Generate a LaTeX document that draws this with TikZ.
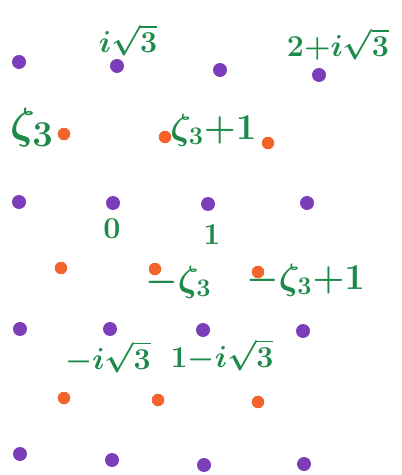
\documentclass[tikz,border=0pt]{standalone}
\usepackage{amsmath,amssymb}
\usepackage{tikz}
\definecolor{latt}{HTML}{7B3DB8}
\definecolor{eis}{HTML}{F2642B}
\definecolor{ink}{HTML}{1E8A4A}

\begin{document}
\begin{tikzpicture}[x=0.02cm, y=-0.02cm,
  dp/.style={circle, fill=latt, inner sep=0pt, minimum size=0.28cm},
  dq/.style={circle, fill=eis, inner sep=0pt, minimum size=0.25cm},
  lb/.style={text=ink, font=\LARGE\boldmath, inner sep=0pt},
  lz/.style={text=ink, font=\huge\boldmath, inner sep=0pt}]
\useasboundingbox (0,0) rectangle (401,475);
% purple points of Z[i sqrt 3]
\foreach \p/\n in {(19,62)/a1,(117,66)/b1,(220,70)/c1,(319,75)/d1,
                   (19,202)/a2,(113,203)/b2,(208,204)/c2,(307,203)/d2,
                   (20,329)/a3,(110,329)/b3,(203,330)/c3,(303,331)/d3,
                   (20,454)/a4,(112,460)/b4,(204,465)/c4,(304,464)/d4}
  \node[dp] (p\n) at \p {};
% orange points
\foreach \p/\n in {(64,134)/a1,(165,137)/b1,(268,143)/c1,
                   (61,268)/a2,(155,269)/b2,(258,272)/c2,
                   (64,398)/a3,(158,400)/b3,(258,402)/c3}
  \node[dq] (q\n) at \p {};
% labels
\node[lb, anchor=north] (li) at (128,24) {$i\sqrt{3}$};
\node[lb, anchor=north] (ltwo) at (338,28) {$2{+}i\sqrt{3}$};
\node[lz, font=\Huge\boldmath] (lzeta) at (32,128) {$\zeta_3$};
\node[lz, anchor=west] (lzone) at (170,130) {$\zeta_3{+}1$};
\node[lb] (lzero) at (112,229) {$0$};
\node[lb] (lone) at (212,235) {$1$};
\node[lz, anchor=west] (lmz) at (145,282) {$-\zeta_3$};
\node[lz, anchor=west] (lmzone) at (246,280) {$-\zeta_3{+}1$};
\node[lb] (lmi) at (108,357) {$-i\sqrt{3}$};
\node[lb] (lonemi) at (222,355) {$1{-}i\sqrt{3}$};
\end{tikzpicture}
\end{document}
